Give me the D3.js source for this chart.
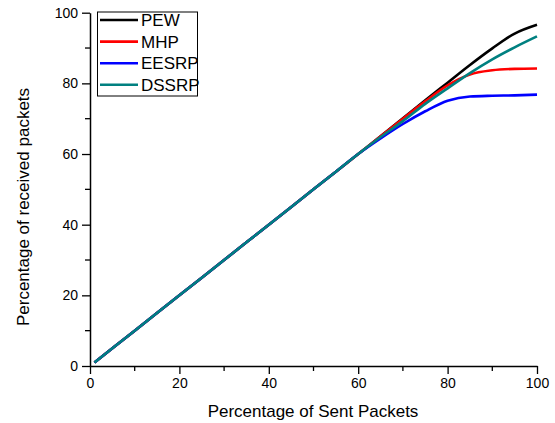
<!DOCTYPE html>
<html>
<head>
<meta charset="utf-8">
<script src="https://d3js.org/d3.v7.min.js"></script>
<style>
  body { margin: 0; background: #fff; }
  text { font-family: "Liberation Sans", Arial, sans-serif; }
</style>
</head>
<body>
<script>
// data
var sent = [1, 10, 20, 30, 40, 50, 55, 60, 65, 70, 75, 80, 85, 90, 95, 100];
var pew   = [1, 10, 20, 30, 40, 50, 55, 60, 65, 70.1, 75.2, 80.2, 85.2, 89.9, 94.1, 96.6];
var mhp   = [1, 10, 20, 30, 40, 50, 55, 60, 65, 70.0, 74.9, 79.4, 82.5, 83.7, 84.1, 84.2];
var eesrp = [1, 10, 20, 30, 40, 50, 55, 60, 64.4, 68.5, 72.1, 75.1, 76.3, 76.5, 76.6, 76.8];
var dssrp = [1, 10, 20, 30, 40, 50, 55, 60, 64.8, 69.3, 74.2, 78.6, 82.9, 86.8, 90.2, 93.3];
var seriesNames = ["PEW", "MHP", "EESRP", "DSSRP"];
var seriesColors = ["#000000", "#ff0000", "#0000ff", "#008080"];
var xTicks = [0, 20, 40, 60, 80, 100];
var yTicks = [0, 20, 40, 60, 80, 100];

var width = 555, height = 423;
var mLeft = 90, mRight = 537, mTop = 12.7, mBottom = 366;

var svg = d3.select("body").append("svg")
  .attr("width", width)
  .attr("height", height);

var x = d3.scaleLinear().domain([0, 100]).range([mLeft, mRight]);
var y = d3.scaleLinear().domain([0, 100]).range([mBottom, mTop]);

// minor ticks
var minor = [10, 30, 50, 70, 90];
svg.append("g").selectAll("line").data(minor).enter().append("line")
  .attr("x1", d => x(d)).attr("x2", d => x(d))
  .attr("y1", mBottom).attr("y2", mBottom + 5)
  .attr("stroke", "#000").attr("stroke-width", 1.3);
svg.append("g").selectAll("line").data(minor).enter().append("line")
  .attr("y1", d => y(d)).attr("y2", d => y(d))
  .attr("x1", mLeft).attr("x2", mLeft - 5)
  .attr("stroke", "#000").attr("stroke-width", 1.3);

var xAxis = svg.append("g")
  .attr("transform", "translate(0," + mBottom + ")")
  .call(d3.axisBottom(x).tickValues(xTicks).tickSize(8).tickPadding(4).tickSizeOuter(0));
var yAxis = svg.append("g")
  .attr("transform", "translate(" + mLeft + ",0)")
  .call(d3.axisLeft(y).tickValues(yTicks).tickSize(8).tickPadding(4).tickSizeOuter(0));

[xAxis, yAxis].forEach(function (g) {
  g.attr("font-size", 14).attr("font-family", "Liberation Sans, Arial, sans-serif");
  g.select(".domain").attr("stroke-width", 1.5);
  g.selectAll(".tick line").attr("stroke-width", 1.3);
  g.selectAll(".tick text").attr("fill", "#000");
});

var all = [pew, mhp, eesrp, dssrp];
var line = d3.line()
  .x((d, i) => x(sent[i]))
  .y(d => y(d))
  .curve(d3.curveMonotoneX);

all.forEach(function (vals, k) {
  svg.append("path")
    .datum(vals)
    .attr("fill", "none")
    .attr("stroke", seriesColors[k])
    .attr("stroke-width", 2.6)
    .attr("stroke-linejoin", "round")
    .attr("d", line);
});

// axis titles
svg.append("text")
  .attr("x", 313).attr("y", 417)
  .attr("text-anchor", "middle")
  .style("font-size", "17px")
  .text("Percentage of Sent Packets");
svg.append("text")
  .attr("transform", "translate(29,207) rotate(-90)")
  .attr("text-anchor", "middle")
  .style("font-size", "17px")
  .text("Percentage of received packets");

// legend
var legend = svg.append("g");
legend.append("rect")
  .attr("x", 97.5).attr("y", 12).attr("width", 100).attr("height", 84)
  .attr("fill", "#fff").attr("stroke", "#000").attr("stroke-width", 1);
seriesNames.forEach(function (name, k) {
  var ly = 20 + k * 21.6;
  legend.append("line")
    .attr("x1", 100).attr("x2", 138)
    .attr("y1", ly).attr("y2", ly)
    .attr("stroke", seriesColors[k]).attr("stroke-width", 2.6);
  legend.append("text")
    .attr("x", 141).attr("y", ly + 6)
    .style("font-size", "17px")
    .text(name);
});
</script>
</body>
</html>
